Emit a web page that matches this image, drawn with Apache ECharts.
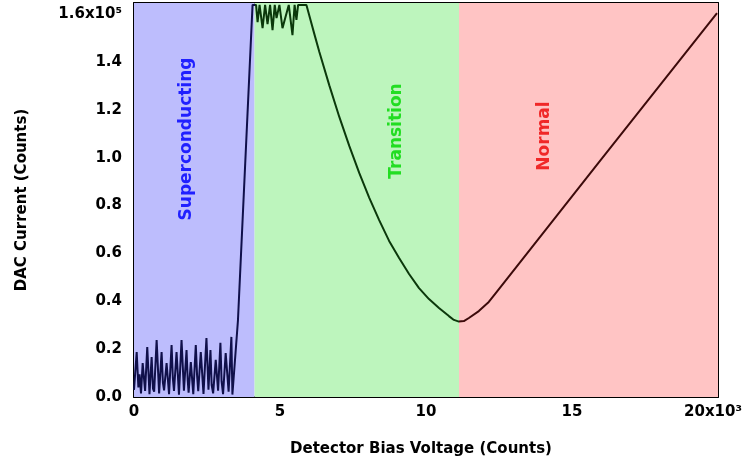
<!DOCTYPE html>
<html><head><meta charset="utf-8">
<script src="https://cdn.jsdelivr.net/npm/echarts@6/dist/echarts.min.js"></script>
<style>html,body{margin:0;padding:0;background:#fff}#c{width:745px;height:465px}</style>
</head><body><div id="c"></div>
<script>
// ---- data (counts) ----
var biasX = [0, 92, 150, 190, 240, 297, 380, 454, 530, 604, 650, 690, 775, 860, 945, 990, 1030, 1116, 1200, 1287, 1330, 1370, 1457, 1540, 1628, 1710, 1799, 1840, 1870, 1946, 2030, 2116, 2160, 2200, 2287, 2380, 2481, 2550, 2618, 2660, 2710, 2799, 2880, 2959, 3000, 3050, 3140, 3240, 3335, 3370, 3560,
  4060, 4180, 4232, 4300, 4403, 4490, 4573, 4660, 4744, 4820, 4881, 4980, 5085, 5300, 5427, 5500, 5563, 5620, 5905,
  6177, 6348, 6689, 7031, 7372, 7713, 8054, 8396, 8737, 9079, 9420, 9761, 10102, 10444, 10785, 10956, 11126, 11297, 11468, 11809, 12150, 12389, 15905, 19966];
var dacY = [3000, 18800, 4000, 9500, 1500, 14200, 2500, 20900, 1200, 16700, 3500, 2200, 23800, 1500, 18800, 6000, 2800, 14200, 1200, 21700, 8000, 2500, 18800, 1000, 23800, 2600, 19600, 7000, 1800, 14600, 1200, 21700, 9000, 2400, 18800, 1300, 24600, 3000, 19600, 5000, 1500, 15500, 2600, 22600, 6500, 1200, 18400, 2200, 25100, 1000, 32000,
  163800, 163800, 156600, 163800, 154100, 163800, 155800, 163800, 153300, 163800, 158300, 163800, 154100, 163800, 151200, 163800, 157500, 163800, 163800,
  151600, 144100, 130200, 117000, 104900, 93600, 83300, 73900, 65200, 58100, 51400, 45500, 40900, 37200, 33800, 32200, 31500, 31700, 33000, 35900, 39700, 43400, 97800, 160400];
var regionEdges = [0, 4130, 11130, 20000];
var regionNames = ['Superconducting', 'Transition', 'Normal'];
var xTicks = [0, 5000, 10000, 15000, 20000];
var yTicks = [0, 20000, 40000, 60000, 80000, 100000, 120000, 140000, 160000];

var regionFill = ['#bdbdfd', '#bdf5bd', '#ffc4c4'];
var regionLine = ['#10104a', '#0b380b', '#3c0a0a'];
var regionText = ['#2020ff', '#22dd22', '#f02828'];

var pts = biasX.map(function (x, i) { return [x, dacY[i]]; });
var FONT = '"DejaVu Sans", sans-serif';

var chart = echarts.init(document.getElementById('c'));
var areas = [];
for (var i = 0; i < 3; i++) {
  areas.push([{ xAxis: regionEdges[i], itemStyle: { color: regionFill[i], opacity: 1 } }, { xAxis: regionEdges[i + 1] }]);
}
var pieces = [];
for (var j = 0; j < 3; j++) {
  var p = { color: regionLine[j] };
  if (j > 0) p.gte = regionEdges[j];
  if (j < 2) p.lt = regionEdges[j + 1];
  pieces.push(p);
}
function yFmt(v) {
  if (v === 160000) return '1.6x10\u2075';
  if (yTicks.indexOf(v) < 0) return '';
  return (v / 100000).toFixed(1);
}
function xFmt(v) {
  if (v === 20000) return '{last|20x10\u00b3}';
  if (xTicks.indexOf(v) < 0) return '';
  return String(v / 1000);
}
var axisLineStyle = { color: '#000', width: 2 };
chart.setOption({
  animation: false,
  grid: { left: 134, right: 25, top: 3, bottom: 68, containLabel: false },
  xAxis: [{
    type: 'value', min: 0, max: 20000, interval: 5000,
    axisLine: { show: true, onZero: false, lineStyle: axisLineStyle },
    axisTick: { show: true, inside: true, length: 7, lineStyle: { color: '#000', width: 1.5 } },
    splitLine: { show: false },
    axisLabel: { formatter: xFmt, color: '#000', fontFamily: FONT, fontWeight: 'bold', fontSize: 15, margin: 8,
      rich: { last: { fontFamily: FONT, fontWeight: 'bold', fontSize: 15, color: '#000', padding: [0, 10, 0, 0] } } }
  }, {
    type: 'value', position: 'top', min: 0, max: 20000, interval: 5000,
    axisLine: { show: true, onZero: false, lineStyle: axisLineStyle },
    axisTick: { show: true, inside: true, length: 7, lineStyle: { color: '#000', width: 1.5 } },
    axisLabel: { show: false }, splitLine: { show: false }
  }],
  yAxis: [{
    type: 'value', min: 0, max: 164600, interval: 20000,
    axisLine: { show: true, onZero: false, lineStyle: axisLineStyle },
    axisTick: { show: true, inside: true, length: 7, lineStyle: { color: '#000', width: 1.5 } },
    splitLine: { show: false },
    axisLabel: { formatter: yFmt, color: '#000', fontFamily: FONT, fontWeight: 'bold', fontSize: 15, margin: 12, showMaxLabel: false }
  }, {
    type: 'value', position: 'right', min: 0, max: 164600, interval: 20000,
    axisLine: { show: true, onZero: false, lineStyle: axisLineStyle },
    axisTick: { show: true, inside: true, length: 7, lineStyle: { color: '#000', width: 1.5 } },
    axisLabel: { show: false }, splitLine: { show: false }
  }],
  visualMap: { type: 'piecewise', show: false, dimension: 0, seriesIndex: 1, pieces: pieces },
  series: [{
    type: 'line', data: [], silent: true, z: 1,
    markArea: { silent: true, data: areas }
  }, {
    type: 'line', data: pts, z: 3, showSymbol: false, symbol: 'none',
    lineStyle: { width: 2 }
  }],
  graphic: [
    { type: 'text', x: 187, y: 139, rotation: Math.PI / 2, style: { text: regionNames[0], fill: regionText[0], font: 'bold 17px ' + FONT, textAlign: 'center', textVerticalAlign: 'middle' }, z: 10 },
    { type: 'text', x: 397, y: 131, rotation: Math.PI / 2, style: { text: regionNames[1], fill: regionText[1], font: 'bold 17px ' + FONT, textAlign: 'center', textVerticalAlign: 'middle' }, z: 10 },
    { type: 'text', x: 545, y: 136, rotation: Math.PI / 2, style: { text: regionNames[2], fill: regionText[2], font: 'bold 17px ' + FONT, textAlign: 'center', textVerticalAlign: 'middle' }, z: 10 },
    { type: 'text', x: 22, y: 200, rotation: Math.PI / 2, style: { text: 'DAC Current (Counts)', fill: '#000', font: 'bold 15px ' + FONT, textAlign: 'center', textVerticalAlign: 'middle' } },
    { type: 'text', x: 421, y: 449, style: { text: 'Detector Bias Voltage (Counts)', fill: '#000', font: 'bold 15px ' + FONT, textAlign: 'center', textVerticalAlign: 'middle' } }
  ]
});
</script></body></html>
